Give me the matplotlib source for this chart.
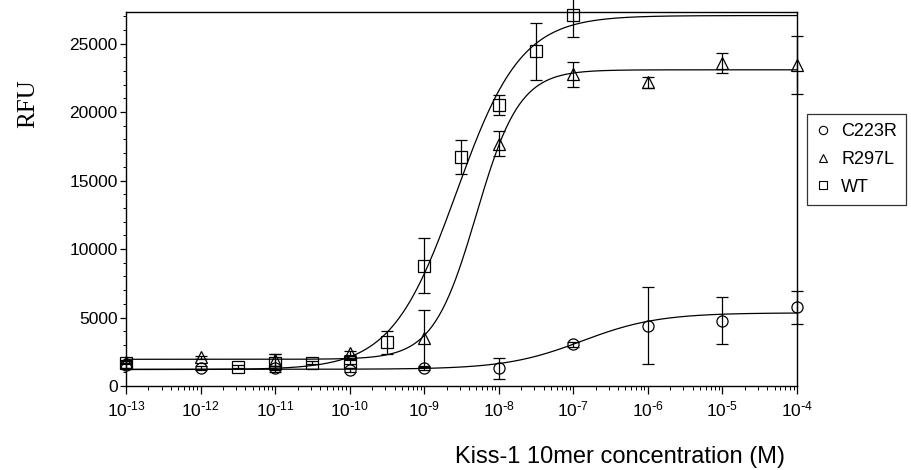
import numpy as np
import matplotlib as mpl
mpl.use('Agg')
from matplotlib import pyplot as plt
from matplotlib.lines import Line2D
from matplotlib.ticker import MultipleLocator, FuncFormatter, LogLocator

plt.rcParams.update({
    'font.family': ['Liberation Sans', 'DejaVu Sans'],
    'font.size': 12,
    'axes.linewidth': 1.0,
    'xtick.major.size': 6,
    'xtick.minor.size': 3,
    'ytick.major.size': 4,
    'ytick.minor.size': 2.5,
    'xtick.major.width': 0.9,
    'xtick.minor.width': 0.7,
    'ytick.major.width': 0.9,
    'ytick.minor.width': 0.7,
})

# Data (concentration in M, RFU)
c223r_conc = [1e-13, 1e-12, 1e-11, 1e-10, 1e-9, 1e-8, 1e-7, 1e-6, 1e-5, 1e-4]
c223r_rfu = [1500, 1290, 1290, 1170, 1290, 1290, 3040, 4400, 4760, 5740]
c223r_err = [150, 150, 150, 150, 150, 760, 200, 2800, 1720, 1220]

r297l_conc = [1e-13, 1e-12, 1e-11, 1e-10, 1e-9, 1e-8, 1e-7, 1e-6, 1e-5, 1e-4]
r297l_rfu = [1770, 2090, 1900, 2400, 3470, 17690, 22740, 22180, 23590, 23400]
r297l_err = [100, 100, 430, 150, 2050, 920, 880, 400, 730, 2120]

wt_conc = [1e-13, 3.16e-12, 1e-11, 3.16e-11, 1e-10, 3.16e-10, 1e-9, 3.16e-9, 1e-8, 3.16e-8, 1e-7]
wt_rfu = [1700, 1400, 1680, 1700, 1770, 3200, 8770, 16710, 20480, 24440, 27110]
wt_err = [100, 100, 650, 100, 150, 840, 2000, 1220, 730, 2090, 1650]

# sigmoid fit parameters: bottom, top, EC50, hill
c223r_fit = (1220, 5340, 1.3e-7, 0.85)
r297l_fit = (1950, 23080, 5e-9, 1.5)
wt_fit = (1200, 27040, 2.7e-9, 1.0)


def sigmoid(x, bottom, top, ec50, hill):
    return bottom + (top - bottom) / (1 + (ec50 / x) ** hill)


def exp_label(v, pos):
    e = int(round(np.log10(v)))
    sign = r'\text{-}' if e < 0 else ''
    return r'$\mathregular{10^{%s%d}}$' % (sign, abs(e))


width, height = 9.12, 4.70
fig = plt.figure(figsize=(width, height), dpi=100)
ax = fig.add_axes([126/912, 84/470, 671/912, 374/470])

xfit = np.logspace(-13, -4, 400)
marker_style = dict(markersize=8, fillstyle='none', markeredgewidth=0.9,
                    color='black', linestyle='None', clip_on=False)
err_style = dict(ecolor='black', elinewidth=0.9, capsize=4, capthick=0.9)

for conc, rfu, err, fit, mk in [
        (c223r_conc, c223r_rfu, c223r_err, c223r_fit, 'o'),
        (r297l_conc, r297l_rfu, r297l_err, r297l_fit, '^'),
        (wt_conc, wt_rfu, wt_err, wt_fit, 's')]:
    ax.plot(xfit, sigmoid(xfit, *fit), color='black', lw=0.9)
    ax.errorbar(conc, rfu, yerr=err, marker=mk, **marker_style, **err_style)

ax.set_xscale('log')
ax.set_xlim(1e-13, 1e-4)
ax.set_ylim(0, 27300)
ax.xaxis.set_major_locator(LogLocator(base=10, numticks=20))
ax.xaxis.set_minor_locator(LogLocator(base=10, subs=np.arange(2, 10), numticks=20))
ax.xaxis.set_major_formatter(FuncFormatter(exp_label))
ax.yaxis.set_major_locator(MultipleLocator(5000))
ax.yaxis.set_minor_locator(MultipleLocator(1000))
ax.tick_params(axis='x', which='major', labelsize=12.5, pad=4)
ax.tick_params(axis='y', which='major', labelsize=12.5, pad=2)

fig.text(28/912, 1 - 104/470, 'RFU', rotation=90, ha='center', va='center',
         family=['Liberation Serif', 'DejaVu Serif'], fontsize=18)
fig.text(620/912, 1 - 457/470, 'Kiss-1 10mer concentration (M)',
         ha='center', va='center', fontsize=17)

handles = [Line2D([], [], marker=m, color='black', fillstyle='none',
                  markersize=6, markeredgewidth=0.8, linestyle='None')
           for m in ['o', '^', 's']]
leg = fig.legend(handles, ['C223R', 'R297L', 'WT'], loc='upper left',
                 bbox_to_anchor=(807/912, 1 - 114/470), fontsize=13,
                 frameon=True, fancybox=False, edgecolor='black',
                 handlelength=0.8, handletextpad=0.6, borderpad=0.5,
                 labelspacing=0.6, borderaxespad=0)
leg.get_frame().set_linewidth(0.9)

fig.savefig('out.png', dpi=100)
